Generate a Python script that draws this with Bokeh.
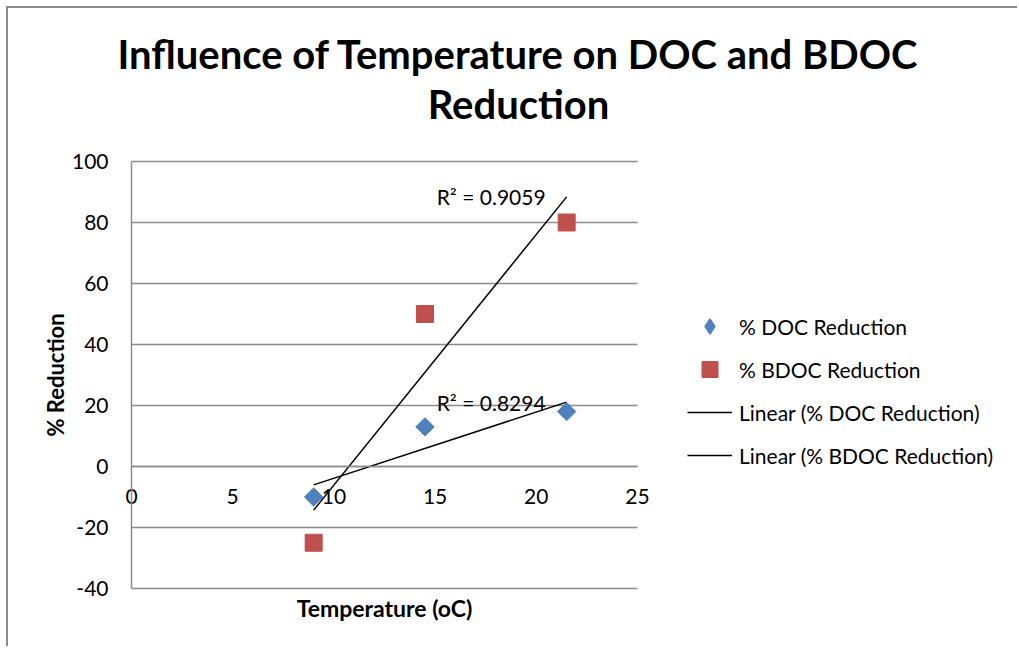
import numpy as np
from bokeh.plotting import figure
from bokeh.models import (Label, Legend, LegendItem, LinearAxis, FixedTicker, Range1d, Grid,
                          PrintfTickFormatter)
from bokeh.embed import file_html
from bokeh.resources import INLINE

# ---- data ----
temperature = [9, 14.5, 21.5]
doc_reduction = [-10, 13, 18]
bdoc_reduction = [-25, 50, 80]
r2_labels = ["R\u00b2 = 0.8294", "R\u00b2 = 0.9059"]
x_ticks = [0, 5, 10, 15, 20, 25]
y_ticks = [-40, -20, 0, 20, 40, 60, 80, 100]
title_lines = ["Influence of Temperature on DOC and BDOC", "Reduction"]
x_title = "Temperature (oC)"
y_title = "% Reduction"
legend_labels = ["% DOC Reduction", "% BDOC Reduction",
                 "Linear (% DOC Reduction)", "Linear (% BDOC Reduction)"]

FONT = "Lato"
GRID = "#8c8c8c"
BLUE = "#4F81BD"
RED = "#C0504D"
FS = "21px"

# canvas and plot-area geometry (pixels)
W, H = 1011, 640
PL, PT, PW, PH = 123, 153, 506, 427   # plot area left/top/width/height inside canvas
x0, x1 = x_ticks[0], x_ticks[-1]
y0, y1 = y_ticks[0], y_ticks[-1]
sx = (x1 - x0) / PW
sy = (y1 - y0) / PH
xr = Range1d(x0 - PL * sx, x1 + (W - PL - PW) * sx)
yr = Range1d(y0 - (H - PT - PH) * sy, y1 + PT * sy)

p = figure(width=W, height=H, output_backend="svg", toolbar_location=None,
           x_range=xr, y_range=yr, x_axis_location=None, y_axis_location=None,
           min_border=0)
p.outline_line_color = None
p.background_fill_color = "white"
p.border_fill_color = "white"
p.grid.visible = False
p.styles = {"margin-left": "6px", "margin-top": "6px",
            "border-left": "2px solid #8c8c8c", "border-top": "2px solid #8c8c8c"}

# horizontal gridlines limited to the plot area
g = Grid(dimension=1, ticker=FixedTicker(ticks=y_ticks), cross_bounds=(x0, x1),
         grid_line_color=GRID, grid_line_width=1.5)
p.add_layout(g)

# y axis at x = 0
ya = LinearAxis(ticker=FixedTicker(ticks=y_ticks), fixed_location=x0, bounds=(y0, y1),
                formatter=PrintfTickFormatter(format="%d"),
                axis_line_color=GRID, axis_line_width=1.5,
                major_tick_line_color=None, minor_tick_line_color=None,
                major_label_standoff=17, major_label_text_font=FONT,
                major_label_text_font_size=FS, major_label_text_color="black")
p.add_layout(ya, "left")

# x axis crossing at y = 0
xa = LinearAxis(ticker=FixedTicker(ticks=x_ticks), fixed_location=0, bounds=(x0, x1),
                formatter=PrintfTickFormatter(format="%d"),
                axis_line_color=GRID, axis_line_width=1.5,
                major_tick_line_color=None, minor_tick_line_color=None,
                major_label_standoff=16, major_label_text_font=FONT,
                major_label_text_font_size=FS, major_label_text_color="black")
p.add_layout(xa, "below")

# trendlines (least squares fit from the data)
tx = np.array(temperature, dtype=float)
fits = []
for ys in (doc_reduction, bdoc_reduction):
    m, b = np.polyfit(tx, np.array(ys, dtype=float), 1)
    xs = np.array([tx.min(), tx.max()])
    fits.append((xs, m * xs + b))

l_doc = p.line(fits[0][0], fits[0][1], line_color="black", line_width=1.5)
l_bdoc = p.line(fits[1][0], fits[1][1], line_color="black", line_width=1.5)

# markers (diamonds drawn as rotated squares)
r_doc = p.scatter(temperature, doc_reduction, marker="square", angle=np.pi / 4,
                  size=13, fill_color=BLUE, line_color=BLUE)
r_bdoc = p.scatter(temperature, bdoc_reduction, marker="square", size=17,
                   fill_color=RED, line_color=RED)
# diamond swatch for the legend only (legend swatches are not rotated)
r_doc_key = p.scatter(temperature, doc_reduction, marker="diamond", size=18,
                      fill_color=BLUE, line_color=BLUE, visible=False)

# R^2 labels anchored at trendline ends
for (xs, ys), lab in zip(fits, r2_labels):
    p.add_layout(Label(x=xs[-1], y=ys[-1], text=lab, text_align="right",
                       text_baseline="middle", x_offset=-21,
                       text_font=FONT, text_font_size=FS, text_color="black"))

# legend
legend = Legend(items=[
    LegendItem(label=legend_labels[0], renderers=[r_doc_key]),
    LegendItem(label=legend_labels[1], renderers=[r_bdoc]),
    LegendItem(label=legend_labels[2], renderers=[l_doc]),
    LegendItem(label=legend_labels[3], renderers=[l_bdoc]),
], location=(679, 173), border_line_color=None, background_fill_alpha=0,
    inactive_fill_alpha=0,
    glyph_width=45, glyph_height=40, label_height=40, spacing=3,
    label_standoff=7, padding=8, margin=0,
    label_text_font=FONT, label_text_font_size=FS, label_text_color="black")
p.add_layout(legend)

# chart title (screen units from the canvas bottom-left)
for i, t in enumerate(title_lines):
    p.add_layout(Label(x=510, y=595 - 50 * i, x_units="screen", y_units="screen",
                       text=t, text_align="center", text_baseline="middle",
                       text_font=FONT, text_font_size="40px", text_font_style="bold",
                       text_color="black"))

# axis titles
p.add_layout(Label(x=PL + PW / 2, y=41, x_units="screen", y_units="screen",
                   text=x_title, text_align="center", text_baseline="middle",
                   text_font=FONT, text_font_size="23px", text_font_style="bold",
                   text_color="black"))
p.add_layout(Label(x=47, y=H - PT - PH / 2, x_units="screen", y_units="screen",
                   text=y_title, angle=np.pi / 2, text_align="center",
                   text_baseline="middle", text_font=FONT, text_font_size="22px",
                   text_font_style="bold", text_color="black"))

open("out.html", "w").write(file_html(p, INLINE))
